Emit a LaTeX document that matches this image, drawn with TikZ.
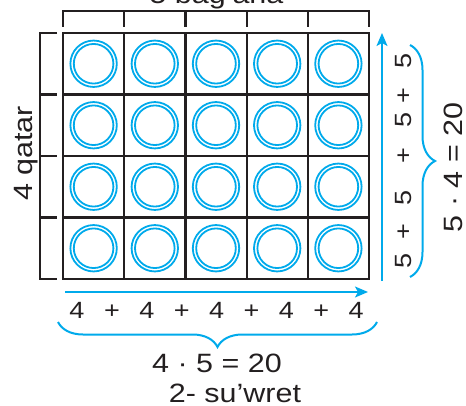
\documentclass[tikz,border=0pt]{standalone}
\usepackage{fontspec}
\setmainfont{Liberation Sans}[FakeStretch=1.15]
\usetikzlibrary{decorations.pathreplacing,arrows.meta}
\definecolor{ink}{RGB}{35,31,32}
\definecolor{sky}{RGB}{0,170,235}
\begin{document}
\begin{tikzpicture}[x=1pt,y=1pt,
  cellbox/.style={draw=ink,line width=2.2pt,minimum width=61.2pt,minimum height=61.5pt,inner sep=0pt,outer sep=0pt},
  ring/.style={draw=sky,line width=1.8pt},
  bracketline/.style={draw=ink,line width=2.2pt},
  small/.style={text=ink,inner sep=0pt,anchor=base,font=\fontsize{23.5}{23.5}\selectfont},
  big/.style={text=ink,inner sep=0pt,anchor=base,font=\fontsize{26.5}{26.5}\selectfont},
  bluearrow/.style={draw=sky,line width=1.5pt,-{Stealth[length=13pt,width=11pt,inset=3pt]}},
  bluebrace/.style={draw=sky,line width=2pt,decorate,decoration={brace,amplitude=25pt}}]
\useasboundingbox (0,0) rectangle (466,405);

% cells with double rings
\foreach \c [evaluate=\c as \x using 93.6+61.2*(\c-1)] in {1,...,5}{
  \foreach \r [evaluate=\r as \y using 341.25-61.5*(\r-1)] in {1,...,4}{
    \node[cellbox] (cell-\r-\c) at (\x,\y) {};
    \draw[ring] (cell-\r-\c.center) circle[radius=23.2] (cell-\r-\c.center) circle[radius=19.8];
  }
}

% top bracket (columns)
\foreach \k [evaluate=\k as \x using 63+61.2*\k] in {0,...,5}{
  \coordinate (tt\k) at (\x,394);
  \coordinate (tb\k) at (\x,378);
}
\draw[bracketline] (tb0) -- (tt0) -- (tt5) -- (tb5);
\foreach \k in {1,...,4}{ \draw[bracketline] (tt\k) -- (tb\k); }

% left bracket (rows)
\foreach \k [evaluate=\k as \y using 372-61.5*\k] in {0,...,4}{
  \coordinate (ll\k) at (40,\y);
  \coordinate (lr\k) at (57,\y);
}
\draw[bracketline] (lr0) -- (ll0) -- (ll4) -- (lr4);
\foreach \k in {1,...,3}{ \draw[bracketline] (ll\k) -- (lr\k); }

% blue arrows
\coordinate (va0) at (382,124);
\coordinate (va1) at (382,372);
\draw[bluearrow] (va0) -- (va1);
\coordinate (ha0) at (65,113);
\coordinate (ha1) at (368,113);
\draw[bluearrow] (ha0) -- (ha1);

% braces
\coordinate (rb0) at (410,360);
\coordinate (rb1) at (410,128);
\draw[bluebrace] (rb0) -- (rb1);
\coordinate (bb0) at (377,83);
\coordinate (bb1) at (58,83);
\draw[bluebrace] (bb0) -- (bb1);

% bottom sum
\foreach \t [count=\i] in {4,+,4,+,4,+,4,+,4}{
  \node[small] (bt\i) at ({77+34.9*(\i-1)},86.5) {\t};
}
% right sum
\foreach \t/\y [count=\i] in {5/144,+/173,5/207,+/249,5/285,+/309,5/344.5}{
  \node[small,rotate=90] (rt\i) at (411,\y) {\t};
}

\node[big,rotate=90] (eq-right) at (462,237.5) {5 · 4 = 20};
\node[big] (eq-bottom) at (217,33) {4 · 5 = 20};
\node[big] (caption) at (235,3) {2- su’wret};
\node[big,rotate=90] (rows-label) at (32,251.5) {4 qatar};
\node[big] (cols-label) at (216.5,401) {5 bag’ana};
\end{tikzpicture}
\end{document}
